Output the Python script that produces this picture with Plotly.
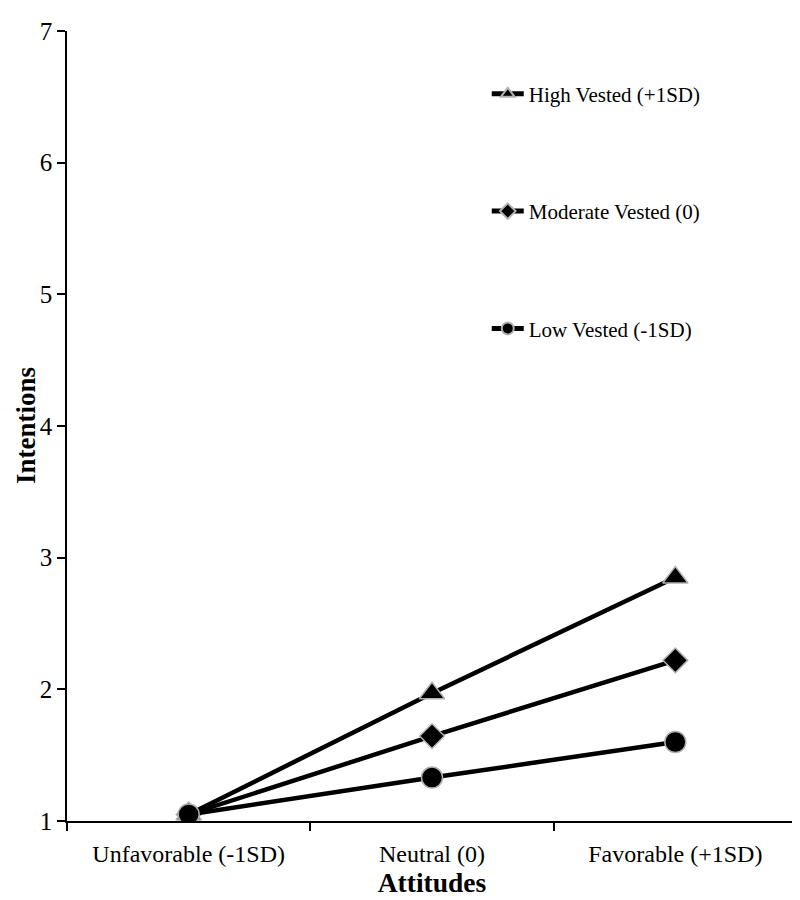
import plotly.graph_objects as go

# 数据
attitudes = ['Unfavorable (-1SD)', 'Neutral (0)', 'Favorable (+1SD)']
high_vested = [1.05, 1.97, 2.85]
moderate_vested = [1.05, 1.645, 2.22]
low_vested = [1.05, 1.33, 1.60]

series_names = ['High Vested (+1SD)', 'Moderate Vested (0)', 'Low Vested (-1SD)']
series_values = [high_vested, moderate_vested, low_vested]
series_symbols = ['triangle-up', 'diamond', 'circle']
series_sizes = [22, 19, 21]

font_family = 'Liberation Serif, Times New Roman, serif'

fig = go.Figure()

for i, (name, vals, sym, sz) in enumerate(zip(series_names, series_values, series_symbols, series_sizes)):
    fig.add_trace(go.Scatter(
        x=attitudes,
        y=vals,
        mode='lines+markers',
        name=name,
        legendgroup=f'g{i}',
        line=dict(color='black', width=4.5),
        marker=dict(symbol=sym, size=sz, color='black',
                    line=dict(color='#b0b0b0', width=1.5))
    ))

# 页面body默认有8px边距，这里的边距已做补偿
fig.update_layout(
    width=800,
    height=900,
    margin=dict(l=59, r=11, t=23, b=87),
    paper_bgcolor='white',
    plot_bgcolor='white',
    font=dict(family=font_family, color='black', size=24),
    showlegend=True,
    legend=dict(
        x=0.575, y=0.946, xanchor='left', yanchor='top',
        font=dict(family=font_family, size=21, color='black'),
        tracegroupgap=87,
        itemwidth=32,
        itemsizing='constant',
        bgcolor='rgba(0,0,0,0)'
    ),
    xaxis=dict(
        type='category',
        range=[-0.5, 2.5],
        tickson='boundaries',
        ticks='outside',
        ticklen=8,
        tickwidth=1.5,
        tickcolor='black',
        showline=True,
        linecolor='black',
        linewidth=1.5,
        showgrid=False,
        zeroline=False,
        automargin=False,
        ticklabelstandoff=10,
        tickfont=dict(size=24),
        title=dict(text='<b>Attitudes</b>', font=dict(size=27.5), standoff=7)
    ),
    yaxis=dict(
        range=[1, 7],
        dtick=1,
        ticks='outside',
        ticklen=8,
        tickwidth=1.5,
        tickcolor='black',
        showline=True,
        linecolor='black',
        linewidth=1.5,
        showgrid=False,
        zeroline=False,
        automargin=False,
        tickfont=dict(size=25)
    ),
    # 纵轴标题用注释放置
    annotations=[dict(
        text='<b>Intentions</b>',
        textangle=-90,
        xref='paper', yref='paper',
        x=-0.056, y=0.5,
        xanchor='center', yanchor='middle',
        showarrow=False,
        borderpad=0,
        font=dict(family=font_family, size=27, color='black')
    )]
)

fig.write_html("out.html")
